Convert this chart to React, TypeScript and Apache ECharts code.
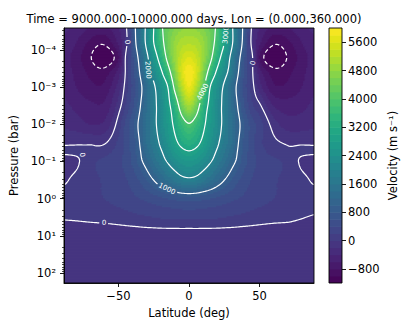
import React, { useEffect, useRef } from 'react';
import * as echarts from 'echarts';

const FONT = "'DejaVu Sans', sans-serif";
const TITLE = 'Time = 9000.000-10000.000 days, Lon = (0.000,360.000)';

// ---- data ----
const latitudes = [-88, -80, -70, -60, -50, -45, -40, -35, -30, -25, -20, -15, -10, -5, 0, 5, 10, 15, 20, 25, 30, 35, 40, 45, 50, 60, 70, 80, 88];
const pressureLevels = [2.5e-5, 6.3e-5, 1.6e-4, 4.0e-4, 1e-3, 3.2e-3, 1e-2, 3.2e-2, 5.6e-2, 0.1, 0.32, 1, 3.2, 10, 32, 200];
// zonal-mean velocity (m/s); one row per pressure level, one column per latitude
const velocity = [
  [-350, -450, -600, -650, -400, -100, 700, 1450, 2150, 3000, 3850, 4350, 4600, 4750, 4800, 4750, 4600, 4350, 3850, 3000, 2150, 1450, 700, -100, -400, -650, -600, -450, -350],
  [-450, -600, -850, -950, -550, -150, 650, 1400, 2150, 3000, 3700, 4400, 4850, 5100, 5150, 5100, 4850, 4400, 3700, 3000, 2150, 1400, 650, -150, -550, -950, -850, -600, -450],
  [-500, -700, -980, -1200, -800, 20, 550, 1150, 1850, 2600, 3350, 4200, 4900, 5400, 5600, 5400, 4900, 4200, 3350, 2600, 1850, 1150, 550, 20, -800, -1200, -980, -700, -500],
  [-500, -650, -850, -900, -500, 20, 500, 1000, 1700, 2250, 2850, 3650, 4650, 5600, 5950, 5600, 4650, 3650, 2850, 2250, 1700, 1000, 500, 20, -500, -900, -850, -650, -500],
  [-450, -600, -750, -750, -300, 80, 450, 850, 1350, 1900, 2400, 3000, 4200, 5200, 5800, 5200, 4200, 3000, 2400, 1900, 1350, 850, 450, 80, -300, -750, -750, -600, -450],
  [-350, -450, -550, -550, -100, 200, 550, 950, 1400, 1850, 2250, 2800, 3450, 4450, 5000, 4450, 3450, 2800, 2250, 1850, 1400, 950, 550, 220, 50, -400, -500, -450, -350],
  [-250, -300, -400, -350, 100, 450, 750, 1080, 1450, 1850, 2250, 2650, 3150, 3650, 3950, 3650, 3150, 2650, 2250, 1850, 1450, 1080, 750, 480, 300, -100, -300, -300, -250],
  [-20, -20, -20, -20, 250, 450, 700, 1000, 1420, 1750, 2080, 2450, 2850, 3150, 3300, 3150, 2850, 2450, 2080, 1750, 1420, 1000, 700, 450, 250, 60, -20, -20, -20],
  [20, 30, 30, 120, 300, 460, 680, 950, 1300, 1620, 1930, 2270, 2600, 2850, 2950, 2850, 2600, 2270, 1930, 1620, 1300, 950, 680, 460, 300, 120, 30, 30, 20],
  [-80, -40, 150, 250, 350, 480, 650, 900, 1150, 1450, 1750, 2050, 2300, 2500, 2600, 2500, 2300, 2050, 1750, 1450, 1150, 900, 650, 480, 350, 250, 150, -40, -80],
  [-30, 60, 150, 220, 300, 380, 480, 620, 800, 1000, 1220, 1450, 1650, 1820, 1880, 1820, 1650, 1450, 1220, 1000, 800, 620, 480, 380, 300, 220, 150, 60, -30],
  [100, 120, 150, 200, 260, 300, 350, 400, 450, 510, 560, 610, 660, 700, 720, 700, 660, 610, 560, 510, 450, 400, 350, 300, 260, 200, 150, 120, 100],
  [20, 30, 50, 70, 100, 120, 140, 160, 180, 200, 220, 230, 240, 250, 250, 250, 240, 230, 220, 200, 180, 160, 140, 120, 100, 70, 50, 10, -20],
  [-150, -150, -150, -150, -140, -135, -130, -125, -120, -120, -120, -120, -120, -120, -120, -120, -120, -120, -120, -120, -120, -125, -130, -135, -140, -150, -150, -150, -150],
  [-170, -170, -165, -165, -160, -160, -160, -160, -160, -160, -160, -160, -160, -160, -160, -160, -160, -160, -160, -160, -160, -160, -160, -160, -160, -165, -165, -170, -170],
  [-175, -175, -175, -175, -175, -175, -175, -175, -175, -175, -175, -175, -175, -175, -175, -175, -175, -175, -175, -175, -175, -175, -175, -175, -175, -175, -175, -175, -175],
];

const latTicks = [-50, 0, 50];
const pressureTicks = [1e-4, 1e-3, 1e-2, 1e-1, 1, 10, 100];
const pressureTickLabels = ['10⁻⁴', '10⁻³', '10⁻²', '10⁻¹', '10⁰', '10¹', '10²'];
const colorbarTicks = [-800, 0, 800, 1600, 2400, 3200, 4000, 4800, 5600];
const lineLevels = [-1000, 0, 1000, 2000, 3000, 4000];
const labelLevel = [0, 2000, 3000, 4000, 0, 0, 1000, 0];
const labelLat = [-43.9, -29.1, 26.2, 9.9, 45.4, -75.8, -15.6, -60.2];
const labelPressure = [6.1e-5, 3.45e-4, 3.95e-5, 1.35e-3, 2.23e-4, 6.65e-2, 0.546, 4.48];
const labelAngle = [-85, -85, 86, 63, 80, -80, -26, -3];

// ---- axis / colour configuration ----
const LAT_MIN = -88.6, LAT_MAX = 88.6;
const P_MIN = 2.56e-5, P_MAX = 186;
const V_MIN = -1200, V_MAX = 6000, V_STEP = 200;
const NB = Math.round((V_MAX - V_MIN) / V_STEP);
const bandLows: number[] = [];
for (let b = 0; b < NB; b++) bandLows.push(V_MIN + b * V_STEP);

const minorTicks: number[] = [];
for (let e = -5; e <= 2; e++) for (let m = 2; m <= 9; m++) {
  const v = m * Math.pow(10, e);
  if (v > P_MIN && v < P_MAX) minorTicks.push(v);
}

const viridisStops = ['#440154', '#471365', '#482475', '#463480', '#414487', '#3b528b', '#355f8d', '#2f6c8e', '#2a788e', '#25848e', '#21918c', '#1e9c89', '#22a884', '#2fb47c', '#44bf70', '#5ec962', '#7ad151', '#9bd93c', '#bddf26', '#dfe318', '#fde725'];
function hexRgb(h: string) { return [parseInt(h.slice(1, 3), 16), parseInt(h.slice(3, 5), 16), parseInt(h.slice(5, 7), 16)]; }
function viridis(t: number) {
  const x = Math.max(0, Math.min(1, t)) * (viridisStops.length - 1);
  const i = Math.min(Math.floor(x), viridisStops.length - 2);
  const f = x - i;
  const a = hexRgb(viridisStops[i]), b = hexRgb(viridisStops[i + 1]);
  return `rgb(${Math.round(a[0] + (b[0] - a[0]) * f)},${Math.round(a[1] + (b[1] - a[1]) * f)},${Math.round(a[2] + (b[2] - a[2]) * f)})`;
}
const bandColors = bandLows.map((_, b) => viridis((b + 0.5) / NB));
function bandOf(v: number) { return Math.max(0, Math.min(NB - 1, Math.floor((v - V_MIN) / V_STEP))); }

// ---- smooth sampling of the read grid (for drawing only) ----
function hermite(xs: number[], ys: number[], x: number) {
  const n = xs.length;
  if (x <= xs[0]) return ys[0];
  if (x >= xs[n - 1]) return ys[n - 1];
  let i = 0;
  while (i < n - 2 && x > xs[i + 1]) i++;
  const h = xs[i + 1] - xs[i];
  const t = (x - xs[i]) / h;
  const sl = (k: number) => k === 0 ? (ys[1] - ys[0]) / (xs[1] - xs[0]) : k === n - 1 ? (ys[n - 1] - ys[n - 2]) / (xs[n - 1] - xs[n - 2]) : (ys[k + 1] - ys[k - 1]) / (xs[k + 1] - xs[k - 1]);
  const t2 = t * t, t3 = t2 * t;
  return (2 * t3 - 3 * t2 + 1) * ys[i] + (t3 - 2 * t2 + t) * h * sl(i) + (-2 * t3 + 3 * t2) * ys[i + 1] + (t3 - t2) * h * sl(i + 1);
}

const NX = 170, NY = 170;
const lgTop = Math.log10(P_MIN), lgBot = Math.log10(P_MAX);
const dLat = (LAT_MAX - LAT_MIN) / NX, dLg = (lgBot - lgTop) / NY;
const latNodes = Array.from({ length: NX + 1 }, (_, i) => LAT_MIN + dLat * i);
const lgNodes = Array.from({ length: NY + 1 }, (_, j) => lgTop + dLg * j);
const logLevels = pressureLevels.map((p) => Math.log10(p));
const rowsFine = velocity.map((row) => latNodes.map((lat) => hermite(latitudes, row, lat)));
const field: number[][] = lgNodes.map((lg) => latNodes.map((_, i) => hermite(logLevels, rowsFine.map((r) => r[i]), lg)));

type Pt = [number, number];
function contour(level: number): Pt[][] {
  const pts = new Map<string, Pt>();
  const segs: [string, string][] = [];
  const edgePoint = (e: number, i: number, j: number): string => {
    let key = '', a = 0, b = 0, p: Pt;
    if (e === 0) { key = `h${j}_${i}`; a = field[j][i]; b = field[j][i + 1]; const t = (level - a) / (b - a); p = [latNodes[i] + t * dLat, lgNodes[j]]; }
    else if (e === 1) { key = `v${j}_${i + 1}`; a = field[j][i + 1]; b = field[j + 1][i + 1]; const t = (level - a) / (b - a); p = [latNodes[i + 1], lgNodes[j] + t * dLg]; }
    else if (e === 2) { key = `h${j + 1}_${i}`; a = field[j + 1][i]; b = field[j + 1][i + 1]; const t = (level - a) / (b - a); p = [latNodes[i] + t * dLat, lgNodes[j + 1]]; }
    else { key = `v${j}_${i}`; a = field[j][i]; b = field[j + 1][i]; const t = (level - a) / (b - a); p = [latNodes[i], lgNodes[j] + t * dLg]; }
    if (!pts.has(key)) pts.set(key, p);
    return key;
  };
  for (let j = 0; j < NY; j++) for (let i = 0; i < NX; i++) {
    const a = field[j][i], b = field[j][i + 1], c = field[j + 1][i + 1], d = field[j + 1][i];
    const idx = (a >= level ? 8 : 0) | (b >= level ? 4 : 0) | (c >= level ? 2 : 0) | (d >= level ? 1 : 0);
    if (idx === 0 || idx === 15) continue;
    const center = (a + b + c + d) / 4 >= level;
    const pairs: [number, number][] = [];
    switch (idx) {
      case 1: case 14: pairs.push([3, 2]); break;
      case 2: case 13: pairs.push([2, 1]); break;
      case 3: case 12: pairs.push([3, 1]); break;
      case 4: case 11: pairs.push([0, 1]); break;
      case 6: case 9: pairs.push([0, 2]); break;
      case 7: case 8: pairs.push([0, 3]); break;
      case 5: if (center) { pairs.push([0, 3], [1, 2]); } else { pairs.push([0, 1], [3, 2]); } break;
      case 10: if (center) { pairs.push([0, 1], [3, 2]); } else { pairs.push([0, 3], [1, 2]); } break;
    }
    for (const [e1, e2] of pairs) segs.push([edgePoint(e1, i, j), edgePoint(e2, i, j)]);
  }
  const adj = new Map<string, number[]>();
  segs.forEach((s, k) => s.forEach((key) => { if (!adj.has(key)) adj.set(key, []); adj.get(key)!.push(k); }));
  const used = new Array(segs.length).fill(false);
  const lines: Pt[][] = [];
  for (let s = 0; s < segs.length; s++) {
    if (used[s]) continue;
    used[s] = true;
    const keys = [segs[s][0], segs[s][1]];
    for (const fwd of [true, false]) {
      for (;;) {
        const end = fwd ? keys[keys.length - 1] : keys[0];
        const next = (adj.get(end) || []).find((k) => !used[k]);
        if (next === undefined) break;
        used[next] = true;
        const other = segs[next][0] === end ? segs[next][1] : segs[next][0];
        if (fwd) keys.push(other); else keys.unshift(other);
      }
    }
    lines.push(keys.map((k) => pts.get(k)!));
  }
  return lines;
}
const contourLines = lineLevels.map((lv) => ({ level: lv, lines: contour(lv) }));
const bands = field.map((row) => row.map(bandOf));

const minus = (v: number) => (v < 0 ? '\u2212' + Math.abs(v) : String(v));
const axisText = { color: '#000', fontFamily: FONT, fontSize: 11.5 };
const LABEL_FONT = 7;

export default function App() {
  const ref = useRef<HTMLDivElement>(null);
  useEffect(() => {
    if (!ref.current) return;
    const chart = echarts.init(ref.current, undefined, { renderer: 'svg' });
    const option: any = {
      animation: false,
      backgroundColor: '#ffffff',
      title: { text: TITLE, left: 189, top: 8, textAlign: 'center', textStyle: { ...axisText, fontWeight: 'normal' } },
      grid: [
        { left: 64, top: 28, width: 250, height: 255, show: true, borderColor: '#000', borderWidth: 0.9, backgroundColor: 'transparent', z: 5, outerBoundsMode: 'none' },
        { left: 329, top: 28, width: 13, height: 255, show: true, borderColor: '#000', borderWidth: 0.9, backgroundColor: 'transparent', z: 5, outerBoundsMode: 'none' },
      ],
      xAxis: [
        {
          gridIndex: 0, type: 'value', min: LAT_MIN, max: LAT_MAX, z: 6,
          axisLine: { show: true, onZero: false, lineStyle: { color: '#000', width: 0.9 } },
          axisTick: { show: true, customValues: latTicks, length: 4, lineStyle: { color: '#000', width: 0.9 } },
          axisLabel: { customValues: latTicks, formatter: (v: number) => minus(v), margin: 7, ...axisText },
          splitLine: { show: false },
          name: 'Latitude (deg)', nameLocation: 'middle', nameGap: 22, nameTextStyle: axisText,
        },
        { gridIndex: 1, type: 'value', min: 0, max: 1, show: false },
      ],
      yAxis: [
        {
          gridIndex: 0, type: 'log', logBase: 10, min: P_MIN, max: P_MAX, inverse: true, position: 'left', z: 6,
          axisLine: { show: true, onZero: false, lineStyle: { color: '#000', width: 0.9 } },
          axisTick: { show: true, customValues: pressureTicks, length: 4, lineStyle: { color: '#000', width: 0.9 } },
          axisLabel: {
            customValues: pressureTicks, margin: 8, ...axisText,
            formatter: (v: number) => {
              let best = 0;
              pressureTicks.forEach((t, k) => { if (Math.abs(Math.log10(t) - Math.log10(v)) < Math.abs(Math.log10(pressureTicks[best]) - Math.log10(v))) best = k; });
              return pressureTickLabels[best];
            },
          },
          splitLine: { show: false },
          name: 'Pressure (bar)', nameLocation: 'middle', nameGap: 40, nameRotate: 90, nameTextStyle: axisText,
        },
        {
          gridIndex: 0, type: 'log', logBase: 10, min: P_MIN, max: P_MAX, inverse: true, position: 'left', z: 6,
          axisLine: { show: false, onZero: false },
          axisTick: { show: true, customValues: minorTicks, length: 2, lineStyle: { color: '#000', width: 0.7 } },
          axisLabel: { show: false },
          splitLine: { show: false },
        },
        {
          gridIndex: 1, type: 'value', min: V_MIN, max: V_MAX, position: 'right', z: 6,
          axisLine: { show: false, onZero: false },
          axisTick: { show: true, customValues: colorbarTicks, length: 4, lineStyle: { color: '#000', width: 0.9 } },
          axisLabel: { customValues: colorbarTicks, formatter: (v: number) => minus(v), margin: 6, ...axisText },
          splitLine: { show: false },
          name: 'Velocity (m s⁻¹)', nameLocation: 'middle', nameGap: 45, nameRotate: 90, nameTextStyle: axisText,
        },
      ],
      series: [
        {
          type: 'custom', xAxisIndex: 0, yAxisIndex: 0, silent: true, clip: true, z: 1,
          data: [[0, 1]],
          renderItem: (_params: any, api: any) => {
            const children: any[] = [];
            const xEdge: number[] = [];
            for (let i = 0; i <= NX + 1; i++) xEdge.push(api.coord([LAT_MIN + (i - 0.5) * dLat, 1])[0]);
            const yEdge: number[] = [];
            for (let j = 0; j <= NY + 1; j++) yEdge.push(api.coord([0, Math.pow(10, lgTop + (j - 0.5) * dLg)])[1]);
            for (let j = 0; j <= NY; j++) {
              const row = bands[j];
              let start = 0;
              for (let i = 1; i <= NX + 1; i++) {
                if (i === NX + 1 || row[i] !== row[start]) {
                  const y0 = Math.min(yEdge[j], yEdge[j + 1]);
                  children.push({
                    type: 'rect',
                    shape: { x: xEdge[start], y: y0, width: xEdge[i] - xEdge[start] + 1, height: Math.abs(yEdge[j + 1] - yEdge[j]) + 1.2 },
                    style: { fill: bandColors[row[start]], stroke: null },
                  });
                  start = i;
                }
              }
            }
            // label anchors in pixels (lines are broken under their labels)
            const labelPx = labelLevel.map((_, k) => api.coord([labelLat[k], labelPressure[k]]));
            const labelR = labelLevel.map((lv) => (String(lv).length * LABEL_FONT * 0.636) / 2 + 1.5);
            contourLines.forEach(({ level, lines }) => {
              lines.forEach((ln) => {
                const px = ln.map(([lat, lg]) => api.coord([lat, Math.pow(10, lg)]));
                let cur: number[][] = [];
                const flush = () => {
                  if (cur.length > 1) children.push({
                    type: 'polyline',
                    shape: { points: cur },
                    style: { stroke: '#ffffff', fill: null, lineWidth: 1.2, lineDash: level < 0 ? [4, 2.5] : null },
                  });
                  cur = [];
                };
                px.forEach((p) => {
                  const hidden = labelLevel.some((lv, k) => lv === level && Math.hypot(p[0] - labelPx[k][0], p[1] - labelPx[k][1]) < labelR[k]);
                  if (hidden) flush(); else cur.push(p);
                });
                flush();
              });
            });
            labelLevel.forEach((lv, k) => {
              const p = labelPx[k];
              children.push({
                type: 'text', x: p[0], y: p[1], rotation: (labelAngle[k] * Math.PI) / 180,
                style: { text: String(lv), fill: '#ffffff', fontSize: LABEL_FONT, fontFamily: FONT, align: 'center', verticalAlign: 'middle', textAlign: 'center', textVerticalAlign: 'middle' },
              });
            });
            return { type: 'group', children };
          },
        },
        {
          type: 'custom', xAxisIndex: 1, yAxisIndex: 2, silent: true, clip: true, z: 1,
          data: bandLows.map((v) => [0, v]),
          renderItem: (_params: any, api: any) => {
            const lo = api.value(1);
            const p0 = api.coord([0, lo + V_STEP]);
            const p1 = api.coord([1, lo]);
            return { type: 'rect', shape: { x: p0[0], y: p0[1], width: p1[0] - p0[0], height: p1[1] - p0[1] + 0.6 }, style: { fill: bandColors[bandOf(lo + V_STEP / 2)] } };
          },
        },
      ],
    };
    chart.setOption(option);
    return () => chart.dispose();
  }, []);
  return <div ref={ref} style={{ position: 'fixed', left: 0, top: 0, width: 415, height: 332 }} />;
}
